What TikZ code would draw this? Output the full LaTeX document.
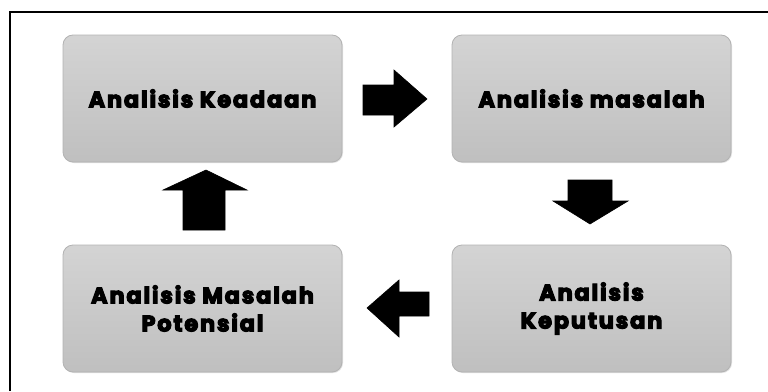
\documentclass[tikz,border=0pt]{standalone}
\usepackage{fontspec}
\newfontfamily\boxfont{Poppins}[BoldFeatures={FakeBold=5, LetterSpace=8}]
\usetikzlibrary{shadows}
\begin{document}
\begin{tikzpicture}[x=1pt,y=-1pt,
  stagebox/.style={draw=black!30, line width=0.8pt, rounded corners=10pt,
    top color=black!17, bottom color=black!25,
    drop shadow={shadow xshift=1pt, shadow yshift=-1pt, opacity=0.25},
    minimum width=279pt, minimum height=127pt, align=center,
    font=\boxfont\bfseries\fontsize{22.5}{28}\selectfont},
  blockarrow/.style={fill=black, draw=black, line width=0.6pt, line join=miter}]
  \useasboundingbox (0,0) rectangle (768,391);
  % frame lines along the top and left edges
  \coordinate (frameTL) at (10,12);
  \coordinate (frameTR) at (768,12);
  \coordinate (frameBL) at (10,391);
  \draw[line width=2.2pt] (frameBL) -- (frameTL) -- (frameTR);
  % the four stages
  \node[stagebox] (keadaan)    at (202.5,98.5)  {Analisis Keadaan};
  \node[stagebox] (masalah)    at (591.5,98.5)  {Analisis masalah};
  \node[stagebox] (keputusan)  at (591.5,308.5) {Analisis\\Keputusan};
  \node[stagebox] (potensial)  at (202.5,308.5) {Analisis Masalah\\Potensial};
  % block arrows between the stages
  \fill[blockarrow] (363,85) -- (394,85) -- (394,70) -- (427,99) -- (394,127) -- (394,115) -- (363,115) -- cycle;
  \fill[blockarrow] (568,180) -- (612,180) -- (612,201) -- (628,201) -- (590,224) -- (553,201) -- (568,201) -- cycle;
  \fill[blockarrow] (429,292) -- (399,292) -- (399,280) -- (367,308) -- (399,337) -- (399,316) -- (429,316) -- cycle;
  \fill[blockarrow] (183,230) -- (183,190) -- (163,190) -- (206,170) -- (247,190) -- (225,190) -- (225,230) -- cycle;
\end{tikzpicture}
\end{document}
